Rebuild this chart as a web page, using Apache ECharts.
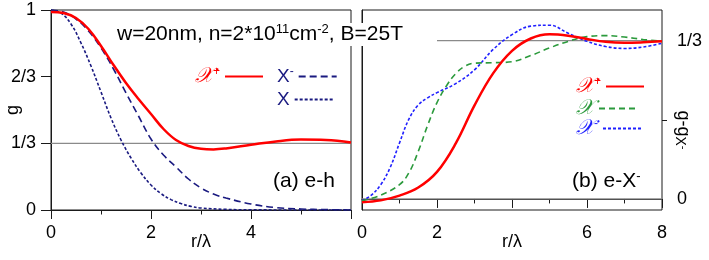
<!DOCTYPE html>
<html><head><meta charset="utf-8">
<script src="https://cdn.jsdelivr.net/npm/echarts@6/dist/echarts.min.js"></script>
<style>html,body{margin:0;padding:0;background:#fff}#c{width:709px;height:260px}</style>
</head><body><div id="c"></div>
<script>
// ---- Panel (a) e-h ----
const rEhRed = [0, 0.25, 0.5, 0.75, 1.0, 1.25, 1.5, 1.75, 2.0, 2.25, 2.5, 2.75, 3.0, 3.25, 3.5, 4.0, 4.5, 5.0, 5.5, 6.0];
const gEhRed = [0.99, 0.985, 0.96, 0.905, 0.82, 0.725, 0.635, 0.555, 0.48, 0.405, 0.35, 0.32, 0.306, 0.303, 0.308, 0.326, 0.343, 0.352, 0.35, 0.338];
const rEhXm = [0, 0.25, 0.5, 0.75, 1.0, 1.25, 1.5, 1.75, 2.0, 2.25, 2.5, 2.75, 3.0, 3.25, 3.5, 4.0, 4.5, 5.0, 5.5, 6.0];
const gEhXm = [1.0, 0.99, 0.955, 0.895, 0.81, 0.705, 0.585, 0.47, 0.355, 0.275, 0.215, 0.155, 0.11, 0.08, 0.06, 0.03, 0.012, 0.005, 0.002, 0];
const rEhX = [0, 0.2, 0.4, 0.6, 0.8, 1.0, 1.2, 1.4, 1.6, 1.8, 2.0, 2.2, 2.4, 2.6, 2.8, 3.0, 3.5, 4.0, 5.0, 6.0];
const gEhX = [1.0, 0.985, 0.93, 0.835, 0.72, 0.59, 0.46, 0.35, 0.26, 0.185, 0.125, 0.082, 0.052, 0.032, 0.018, 0.01, 0.003, 0.001, 0, 0];
// ---- Panel (b) e-X- ----
const rXmRed = [0, 0.5, 1.0, 1.5, 2.0, 2.5, 3.0, 3.5, 4.0, 4.5, 5.0, 5.5, 6.0, 6.5, 7.0, 7.5, 8.0];
const vXmRed = [-0.007, -0.003, 0.007, 0.024, 0.057, 0.117, 0.197, 0.265, 0.312, 0.338, 0.347, 0.344, 0.337, 0.331, 0.329, 0.33, 0.332];
const rXmGreen = [0, 0.5, 1.0, 1.25, 1.5, 1.75, 2.0, 2.25, 2.5, 2.75, 3.0, 3.5, 4.0, 4.5, 5.0, 5.5, 6.0, 6.5, 7.0, 7.5, 8.0];
const vXmGreen = [-0.004, 0.008, 0.03, 0.055, 0.1, 0.155, 0.203, 0.238, 0.264, 0.28, 0.286, 0.287, 0.289, 0.302, 0.318, 0.332, 0.342, 0.344, 0.341, 0.336, 0.332];
const rXmBlue = [0, 0.25, 0.5, 0.75, 1.0, 1.25, 1.5, 1.75, 2.0, 2.5, 3.0, 3.5, 4.0, 4.5, 5.0, 5.5, 6.0, 6.5, 7.0, 7.5, 8.0];
const vXmBlue = [-0.004, 0.008, 0.03, 0.066, 0.118, 0.168, 0.198, 0.213, 0.224, 0.243, 0.272, 0.315, 0.346, 0.364, 0.366, 0.349, 0.332, 0.321, 0.317, 0.32, 0.328];
// reference lines
const refLeftX = [0, 6], refLeftY = [1/3, 1/3];
const refRightThirdX = [2, 8], refRightThirdY = [1/3, 1/3];
const refRightZeroX = [0, 8], refRightZeroY = [0, 0];
// tick labels
const leftYTicks = [0, 1/3, 2/3, 1];
const leftYLabels = ['0', '1/3', '2/3', '1'];
const rightYTicks = [0, 1/3];
const rightYLabels = ['0', '1/3'];
const rightYMinorTicks = [1/6];
const leftXLabels = [0, 2, 4];
const rightXLabels = [0, 2, 6, 8];

const pairs = (xs, ys) => xs.map((x, i) => [x, ys[i]]);
const FONT = 'Liberation Sans';
const RED = '#ff0000', NAVY = '#1a1a80', GREEN = '#2b9a3c', BLUE = '#2020ff', GRAY = '#8a8a8a', AX = '#1a1a1a';
const SCRIPT_FONT = 'DejaVu Serif';
const TICK_FS = 18;

const chart = echarts.init(document.getElementById('c'), null, {renderer: 'canvas'});

const axisCommon = {
  axisLine: {show: true, lineStyle: {color: AX, width: 1}},
  splitLine: {show: false},
  nameMoveOverlap: false,
  axisLabel: {color: '#000', fontFamily: FONT, fontSize: TICK_FS},
  nameTextStyle: {color: '#000', fontFamily: FONT, fontSize: TICK_FS}
};

function xAx(grid, max, labels) {
  return Object.assign({}, axisCommon, {
    type: 'value', gridIndex: grid, min: 0, max: max, interval: 2,
    name: 'r/λ', nameLocation: 'middle', nameGap: 23,
    axisTick: {show: true, length: 9, lineStyle: {color: AX}},
    minorTick: {show: true, splitNumber: 2, length: 4.5, lineStyle: {color: AX}},
    axisLabel: Object.assign({}, axisCommon.axisLabel, {margin: 14, customValues: labels, formatter: v => String(v)})
  });
}

function legendItem(name, label, color, left, top, width) {
  return {
    data: [{name: name, textStyle: {color: color}}],
    left: left, top: top, align: 'right', orient: 'vertical', padding: 0,
    itemWidth: width, itemHeight: 14, selectedMode: false,
    itemStyle: {opacity: 0},
    formatter: () => label,
    textStyle: {
      color: color, fontFamily: FONT, fontSize: 19,
      rich: {
        s: {fontFamily: SCRIPT_FONT, fontStyle: 'italic', fontSize: 21, color: color},
        n: {fontFamily: FONT, fontSize: 19, color: color},
        sup: {fontFamily: FONT, fontSize: 12, color: color, verticalAlign: 'top', padding: [0, 0, 9, 0]}
      }
    }
  };
}

const option = {
  animation: false,
  backgroundColor: '#fff',
  grid: [
    {left: 51, top: 10, width: 300, height: 200, show: true, borderColor: AX, borderWidth: 1, backgroundColor: 'transparent', containLabel: false, outerBoundsMode: 'none'},
    {left: 362, top: 10, width: 300, height: 200, show: true, borderColor: AX, borderWidth: 1, backgroundColor: 'transparent', containLabel: false, outerBoundsMode: 'none'}
  ],
  xAxis: [xAx(0, 6, leftXLabels), xAx(1, 8, rightXLabels)],
  yAxis: [
    Object.assign({}, axisCommon, {
      type: 'value', gridIndex: 0, min: 0, max: 1, interval: 1/3,
      name: 'g', nameLocation: 'middle', nameGap: 29, nameRotate: 90,
      axisTick: {show: true, length: 10, lineStyle: {color: AX}},
      axisLabel: Object.assign({}, axisCommon.axisLabel, {margin: 15,
        formatter: v => { const i = leftYTicks.findIndex(t => Math.abs(t - v) < 1e-6); return i >= 0 ? leftYLabels[i] : ''; }})
    }),
    Object.assign({}, axisCommon, {
      type: 'value', gridIndex: 1, min: -0.0233, max: 0.398, position: 'right',
      axisTick: {show: true, length: 10, customValues: rightYTicks, lineStyle: {color: AX}},
      axisLabel: Object.assign({}, axisCommon.axisLabel, {margin: 15, customValues: rightYTicks,
        formatter: v => { const i = rightYTicks.findIndex(t => Math.abs(t - v) < 1e-6); return i >= 0 ? rightYLabels[i] : ''; }})
    }),
    {
      type: 'value', gridIndex: 1, min: -0.0233, max: 0.398, position: 'right',
      axisLine: {show: false}, splitLine: {show: false},
      axisTick: {show: true, length: 5, customValues: rightYMinorTicks, lineStyle: {color: AX}},
      axisLabel: {show: false}
    }
  ],
  legend: [
    legendItem('chiPlusEH', '{s|𝒳}{sup|+}', RED, 195, 66, 38),
    legendItem('XmEH', '{n|X}{sup|-}', NAVY, 277, 66, 38),
    legendItem('XEH', '{n|X}', NAVY, 277, 90, 38),
    legendItem('chiPlusXm', '{s|𝒳}{sup|+}', RED, 576, 76, 38),
    legendItem('chiXm', '{s|𝒳}', GREEN, 576, 98, 38),
    legendItem('chiMinusXm', '{s|𝒳}{sup|-}', BLUE, 576, 118, 38)
  ],
  graphic: [
    {type: 'text', left: 115, top: 23, z: 100, style: {
      text: '{n|w=20nm, n=2*10}{sup|11}{n|cm}{sup|-2}{n|, B=25T}', fill: '#000',
      backgroundColor: '#fff', padding: [0, 2, 0, 2],
      rich: {n: {fontFamily: FONT, fontSize: 21, fill: '#000'}, sup: {fontFamily: FONT, fontSize: 13, fill: '#000', verticalAlign: 'top', padding: [0,0,10,0]}}
    }},
    {type: 'text', left: 273, top: 171, style: {text: '(a) e-h', fill: '#000', font: '21px "Liberation Sans"'}},
    {type: 'text', left: 572, top: 170, style: {
      text: '{n|(b) e-X}{sup|-}', fill: '#000',
      rich: {n: {fontFamily: FONT, fontSize: 21, fill: '#000'}, sup: {fontFamily: FONT, fontSize: 13, fill: '#000', verticalAlign: 'top', padding: [0,0,10,0]}}
    }},
    {type: 'text', x: 683, y: 130, rotation: -Math.PI / 2, style: {
      text: '{n|g-g}{sub|X}{sup|-}', fill: '#000', align: 'center', verticalAlign: 'middle',
      rich: {n: {fontFamily: FONT, fontSize: 18, fill: '#000'}, sub: {fontFamily: FONT, fontSize: 14, fill: '#000', padding: [7,0,0,0]}, sup: {fontFamily: FONT, fontSize: 11, fill: '#000'}}
    }}
  ],
  series: [
    {type: 'line', xAxisIndex: 0, yAxisIndex: 0, data: pairs(refLeftX, refLeftY), symbol: 'none', silent: true, lineStyle: {color: GRAY, width: 1.2}, z: 1},
    {type: 'line', xAxisIndex: 1, yAxisIndex: 1, data: pairs(refRightThirdX, refRightThirdY), symbol: 'none', silent: true, lineStyle: {color: GRAY, width: 1.2}, z: 1},
    {type: 'line', xAxisIndex: 1, yAxisIndex: 1, data: pairs(refRightZeroX, refRightZeroY), symbol: 'none', silent: true, lineStyle: {color: GRAY, width: 1.2}, z: 1},
    {name: 'XEH', type: 'line', xAxisIndex: 0, yAxisIndex: 0, data: pairs(rEhX, gEhX), smooth: 0.4, symbol: 'none', color: NAVY, lineStyle: {color: NAVY, width: 1.6, type: [3, 2]}, z: 2},
    {name: 'XmEH', type: 'line', xAxisIndex: 0, yAxisIndex: 0, data: pairs(rEhXm, gEhXm), smooth: 0.4, symbol: 'none', color: NAVY, lineStyle: {color: NAVY, width: 1.6, type: [7, 4]}, z: 3},
    {name: 'chiPlusEH', type: 'line', xAxisIndex: 0, yAxisIndex: 0, data: pairs(rEhRed, gEhRed), smooth: 0.4, symbol: 'none', color: RED, lineStyle: {color: RED, width: 2.5}, z: 4},
    {name: 'chiMinusXm', type: 'line', xAxisIndex: 1, yAxisIndex: 1, data: pairs(rXmBlue, vXmBlue), smooth: 0.4, symbol: 'none', color: BLUE, lineStyle: {color: BLUE, width: 1.6, type: [3, 2]}, z: 2},
    {name: 'chiXm', type: 'line', xAxisIndex: 1, yAxisIndex: 1, data: pairs(rXmGreen, vXmGreen), smooth: 0.4, symbol: 'none', color: GREEN, lineStyle: {color: GREEN, width: 1.6, type: [6, 4]}, z: 3},
    {name: 'chiPlusXm', type: 'line', xAxisIndex: 1, yAxisIndex: 1, data: pairs(rXmRed, vXmRed), smooth: 0.4, symbol: 'none', color: RED, lineStyle: {color: RED, width: 2.5}, z: 4}
  ]
};
chart.setOption(option);
</script></body></html>
